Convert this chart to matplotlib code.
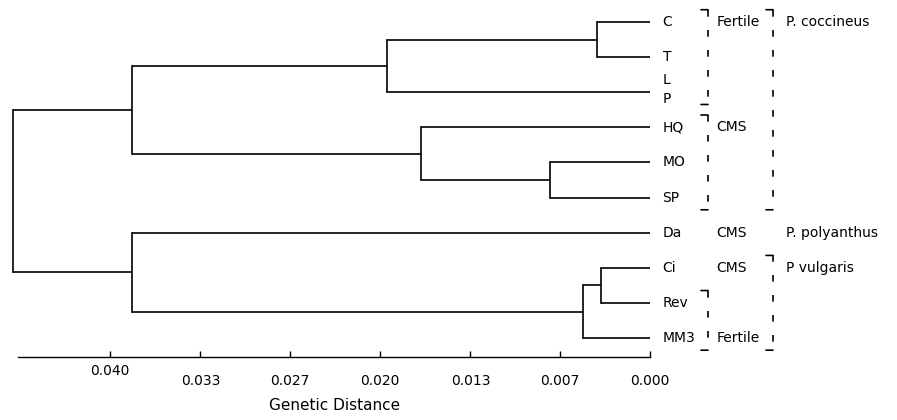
import matplotlib
matplotlib.use("Agg")
import matplotlib.pyplot as plt
from matplotlib.transforms import offset_copy

# ---- data ----
leaf_labels = ["C", "T", "L\nP", "HQ", "MO", "SP", "Da", "Ci", "Rev", "MM3"]
# merges: (left child, right child, genetic distance of the junction)
merge_names = ["CT", "CTLP", "MOSP", "HQMOSP", "UP", "CiRev", "CRM", "LOW", "ROOT"]
merge_left = ["C", "CT", "MO", "HQ", "CTLP", "Ci", "CiRev", "Da", "UP"]
merge_right = ["T", "L\nP", "SP", "MOSP", "HQMOSP", "Rev", "MM3", "CRM", "LOW"]
merge_height = [0.0039, 0.0195, 0.0074, 0.0170, 0.0384, 0.0036, 0.0050, 0.0384, 0.0472]

tick_values = [0.040, 0.0333, 0.0267, 0.020, 0.0133, 0.0067, 0.000]
tick_labels = ["0.040", "0.033", "0.027", "0.020", "0.013", "0.007", "0.000"]
axis_label = "Genetic Distance"

# groups: (label, first leaf, last leaf, row of text)
group_labels = ["Fertile", "CMS", "CMS", "CMS", "Fertile"]
group_first = ["C", "HQ", "Da", "Ci", "Rev"]
group_last = ["L\nP", "SP", "Da", "Ci", "MM3"]
group_text_at = ["C", "HQ", "Da", "Ci", "MM3"]

species_labels = ["P. coccineus", "P. polyanthus", "P vulgaris"]
species_first = ["C", "Da", "Ci"]
species_last = ["SP", "Da", "MM3"]
species_text_at = ["C", "Da", "Ci"]

# ---- figure ----
fig = plt.figure(figsize=(8.97, 4.2), dpi=100)
ax = fig.add_axes([0, 0, 1, 1])
ax.set_xlim(0.048148, -0.018296)
ax.set_ylim(11.339, -0.6268)

pos = {}
hgt = {}
for i, lab in enumerate(leaf_labels):
    pos[lab] = float(i)
    hgt[lab] = 0.0

lw = 1.2
for name, l, r, h in zip(merge_names, merge_left, merge_right, merge_height):
    yl, yr = pos[l], pos[r]
    ax.plot([hgt[l], h], [yl, yl], color="black", lw=lw, solid_capstyle="butt")
    ax.plot([hgt[r], h], [yr, yr], color="black", lw=lw, solid_capstyle="butt")
    ax.plot([h, h], [yl, yr], color="black", lw=lw, solid_capstyle="projecting")
    pos[name] = (yl + yr) / 2
    hgt[name] = h

fs = 10
for lab in leaf_labels:
    ax.annotate(lab, (0, pos[lab]), xytext=(9, 2 if "\n" in lab else 0),
                textcoords="offset points",
                va="center", ha="left", fontsize=fs, linespacing=1.45)


def bracket(dx, first, last, pad=0.35):
    y0 = pos[first] - pad
    y1 = pos[last] + pad
    tv = offset_copy(ax.transData, fig=fig, x=dx, y=0, units="dots")
    ax.plot([0, 0], [y0, y1], color="black", lw=1.2, linestyle=(0, (4, 8)),
            transform=tv)
    for yy in (y0, y1):
        ax.annotate("", xy=(0, yy), xytext=(-7, 0), textcoords="offset pixels",
                    xycoords=tv,
                    arrowprops=dict(arrowstyle="-", lw=1.2, color="black",
                                    shrinkA=0, shrinkB=0))


for lab, f, l, t in zip(group_labels, group_first, group_last, group_text_at):
    if f != l:
        bracket(58, f, l)
    ax.annotate(lab, (0, pos[t]), xytext=(48, 0), textcoords="offset points",
                va="center", ha="left", fontsize=fs)

for lab, f, l, t in zip(species_labels, species_first, species_last, species_text_at):
    if f != l:
        bracket(123, f, l)
    ax.annotate(lab, (0, pos[t]), xytext=(98, 0), textcoords="offset points",
                va="center", ha="left", fontsize=fs)

# ---- axis ----
for s in ["left", "right", "top"]:
    ax.spines[s].set_visible(False)
ax.spines["bottom"].set_position(("data", 9.544))
ax.spines["bottom"].set_bounds(0.0468, 0.0)
ax.spines["bottom"].set_linewidth(1.0)
ax.set_yticks([])
ax.set_xticks(tick_values)
ax.set_xticklabels(tick_labels, fontsize=fs)
ax.tick_params(axis="x", direction="in", length=4, width=1.0, pad=12)
for tk in ax.xaxis.get_major_ticks():
    if abs(tk.get_loc() - 0.040) < 1e-9:
        tk.set_pad(5)

ax.text(0.5 * (0.0468 + 0.0), 10.94, axis_label, ha="center", va="center",
        fontsize=11)

fig.savefig("out.png", dpi=100)
